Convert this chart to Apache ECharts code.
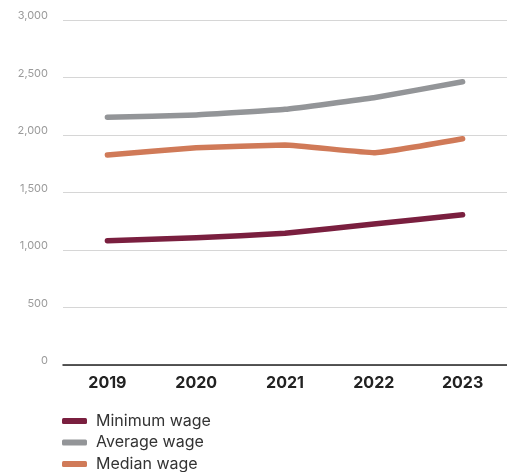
<!DOCTYPE html>
<html><head><meta charset="utf-8">
<script src="https://cdn.jsdelivr.net/npm/echarts@6/dist/echarts.min.js"></script>
<style>html,body{margin:0;padding:0;background:#fff}#c{width:507px;height:472px}</style>
</head><body><div id="c"></div>
<script>
var years = ['2019','2020','2021','2022','2023'];
var minimumWage = [1081, 1107, 1145, 1226, 1307];
var averageWage = [2154, 2174, 2223, 2324, 2463];
var medianWage = [1826, 1890, 1913, 1846, 1968];
var yTicks = [0, 500, 1000, 1500, 2000, 2500, 3000];

var chart = echarts.init(document.getElementById('c'));
function ser(name, data, color) {
  return {name: name, type: 'line', data: data, smooth: 0.1, symbol: 'none',
    lineStyle: {width: 5.5, color: color, cap: 'round', join: 'round'},
    itemStyle: {color: color}};
}
chart.setOption({
  animation: false,
  grid: {left: 63, top: 20, width: 460, height: 345},
  xAxis: {type: 'category', data: years, boundaryGap: true,
    axisLine: {lineStyle: {color: '#222', width: 1.5}}, axisTick: {show: false},
    axisLabel: {fontFamily: 'Inter', fontWeight: 'bold', fontSize: 16, color: '#222', margin: 10}},
  yAxis: {type: 'value', min: 0, max: 3000, interval: 500,
    axisLine: {show: false}, axisTick: {show: false},
    splitLine: {lineStyle: {color: '#d6d6d6', width: 1}},
    axisLabel: {fontFamily: 'Inter', fontSize: 11, color: '#9a9a9a', margin: 15, verticalAlign: 'bottom', lineHeight: 8,
      formatter: function (v) { return v.toLocaleString('en-US'); }}},
  legend: {orient: 'vertical', left: 57, top: 408, height: 200, itemGap: 5.5, itemWidth: 25, itemHeight: 6,
    icon: 'roundRect',
    textStyle: {fontFamily: 'Inter', fontSize: 16, color: '#333', lineHeight: 16, padding: [0, 0, 0, 4]}},
  series: [ser('Minimum wage', minimumWage, '#7a1f3f'), ser('Average wage', averageWage, '#939598'), ser('Median wage', medianWage, '#d07a58')]
});
</script></body></html>
